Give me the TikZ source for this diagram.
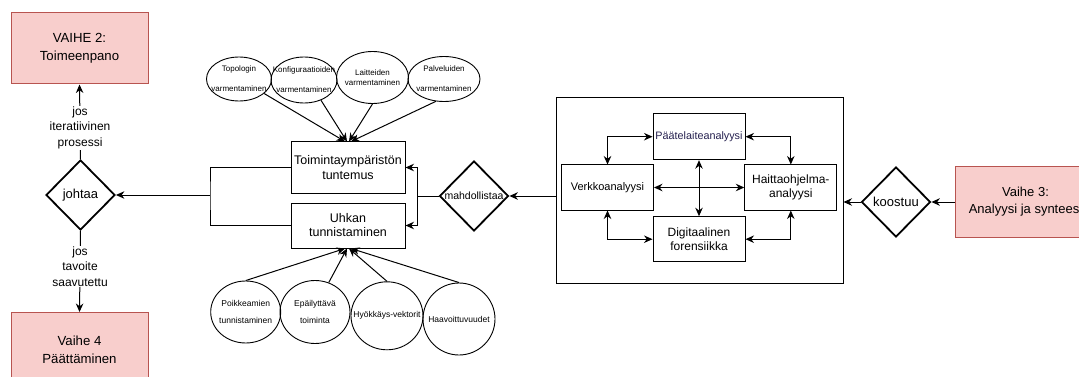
\documentclass[tikz,border=0pt]{standalone}
\usepackage{fontspec}
\setmainfont{Liberation Sans}
\usetikzlibrary{shapes.geometric,arrows.meta}
\definecolor{phasefill}{HTML}{F8CECC}
\definecolor{phaseline}{HTML}{B85450}
\definecolor{navytext}{HTML}{25204F}
% zero-width box so that a label does not enlarge its shape
\newcommand{\zerow}[1]{\makebox[0pt]{#1}}
\begin{document}
\begin{tikzpicture}[x=1pt,y=-1pt,
  >={Stealth[length=8.5pt,width=7.5pt]},
  every node/.style={align=center, font=\fontsize{12.5}{15}\selectfont},
  phase/.style={draw=phaseline, fill=phasefill, line width=1pt,
    minimum width=137pt, minimum height=71pt, inner sep=0pt,
    font=\fontsize{13.2}{17.6}\selectfont},
  dia/.style={diamond, draw, line width=1.8pt, minimum width=69pt,
    minimum height=70pt, inner sep=0pt},
  box/.style={draw, line width=1pt, inner sep=1pt},
  subbox/.style={box, minimum width=92pt, minimum height=46pt,
    font=\fontsize{12}{13.5}\selectfont},
  ell/.style={ellipse, draw, line width=0.9pt, inner sep=0pt},
  lbl/.style={fill=white, inner sep=1pt, font=\fontsize{12}{15.5}\selectfont},
  link/.style={line width=1pt}
]
\useasboundingbox (0,0) rectangle (1079,377);

% phases
\node[phase] (v2) at (79.5,48.5) {VAIHE 2:\\Toimeenpano};
\node[phase, minimum height=74pt, anchor=north] (v4) at (79.5,312) {Vaihe 4\\Päättäminen};
\node[phase, minimum width=140pt, anchor=west, font=\fontsize{13}{17}\selectfont] (v3) at (955,202) {Vaihe 3:\\Analyysi ja synteesi};

% decisions
\node[dia, font=\fontsize{13}{15}\selectfont] (joh) at (80.5,195) {\zerow{johtaa}};
\node[dia, font=\fontsize{10.5}{12}\selectfont] (mah) at (474,196) {\zerow{mahdollistaa}};
\node[dia, font=\fontsize{13}{15}\selectfont] (koo) at (896,202) {\zerow{koostuu}};

% knowledge boxes
\node[box, minimum width=114pt, minimum height=51pt] (toim) at (348,167.5) {Toimintaympäristön\\tuntemus};
\node[box, minimum width=114pt, minimum height=45pt, font=\fontsize{12.5}{14}\selectfont] (uhka) at (348,225.5) {Uhkan\\tunnistaminen};

% verification ellipses
\node[ell, minimum width=65pt, minimum height=44pt, font=\fontsize{8}{20}\selectfont] (topo) at (239,79) {\zerow{Topologin}\\\zerow{varmentaminen}};
\node[ell, minimum width=66pt, minimum height=46pt, font=\fontsize{8}{20}\selectfont] (konf) at (304,80) {\zerow{Konfiguraatioiden}\\\zerow{varmentaminen}};
\node[ell, minimum width=72pt, minimum height=52pt, font=\fontsize{8}{10.5}\selectfont] (lait) at (372.5,77.5) {\zerow{Laitteiden}\\\zerow{varmentaminen}};
\node[ell, minimum width=72pt, minimum height=45pt, font=\fontsize{8}{20}\selectfont] (palv) at (444,79) {\zerow{Palveluiden}\\\zerow{varmentaminen}};

% threat ellipses
\node[ell, minimum width=70pt, minimum height=62pt, font=\fontsize{8.5}{16.7}\selectfont] (poik) at (245.7,312) {\zerow{Poikkeamien}\\\zerow{tunnistaminen}};
\node[ell, minimum width=70pt, minimum height=63pt, font=\fontsize{8.5}{16.7}\selectfont] (epai) at (315,312) {\zerow{Epäilyttävä}\\\zerow{toiminta}};
\node[ell, minimum width=72pt, minimum height=68pt, font=\fontsize{8.5}{10}\selectfont] (hyok) at (387,315.8) {\zerow{Hyökkäys-vektorit}};
\node[ell, minimum width=72pt, minimum height=72pt, font=\fontsize{8.5}{10}\selectfont] (haav) at (459,319) {\zerow{Haavoittuvuudet}};

% analysis container
\node[box, minimum width=287pt, minimum height=185pt] (cont) at (699.5,190.5) {};
\node[subbox, font=\fontsize{10.8}{12}\selectfont, text=navytext] (pte) at (699,136.7) {Päätelaiteanalyysi};
\node[subbox, minimum height=45pt, font=\fontsize{11}{13}\selectfont] (verk) at (607.5,187.5) {Verkkoanalyysi};
\node[subbox, minimum height=45pt] (hait) at (790.8,187.5) {Haittaohjelma-\\analyysi};
\node[subbox, minimum height=45pt] (digi) at (699,239.2) {Digitaalinen\\forensiikka};

% connectors: left column
\draw[link,->] (joh.north) -- node[lbl, pos=0.42] {jos\\iteratiivinen\\prosessi} (v2.south);
\draw[link,->] (joh.south) -- node[lbl, pos=0.44] {jos\\tavoite\\saavutettu} (v4.north);

% connectors: knowledge boxes to decision
\coordinate (lb) at (210,195);
\draw[link] (toim.west) -| (lb) |- (uhka.west);
\draw[link,->] (lb) -- (joh.east);
\coordinate (rb) at (417,196);
\draw[link,->] (mah.west) -- (rb) |- (toim.east);
\draw[link,->] (rb) |- (uhka.east);

% connectors: ellipses into boxes
\draw[link,->] (topo.-30) -- ([xshift=-3pt]toim.north);
\draw[link,->] (konf.-50) -- ([xshift=-1pt]toim.north);
\draw[link,->] (lait.south) -- ([xshift=1pt]toim.north);
\draw[link,->] (palv.-110) -- ([xshift=3pt]toim.north);
\draw[link,->] (poik.north) -- ([xshift=-3pt]uhka.south);
\draw[link,->] (epai.65) -- ([xshift=-1pt]uhka.south);
\draw[link,->] (hyok.north) -- ([xshift=1pt]uhka.south);
\draw[link,->] (haav.north) -- ([xshift=3pt]uhka.south);

% connectors: right side
\draw[link,->] (cont.west |- mah.east) -- (mah.east);
\draw[link,->] (koo.west) -- (koo.west -| cont.east);
\draw[link,->] (v3.west) -- (koo.east);

% connectors inside the container
\draw[link,<->] (verk.north) |- (pte.west);
\draw[link,<->] (hait.north) |- (pte.east);
\draw[link,<->] (verk.south) |- (digi.west);
\draw[link,<->] (hait.south) |- (digi.east);
\draw[link,<->] (verk.east) -- (hait.west);
\draw[link,<->] (pte.south) -- (digi.north);
\end{tikzpicture}
\end{document}
